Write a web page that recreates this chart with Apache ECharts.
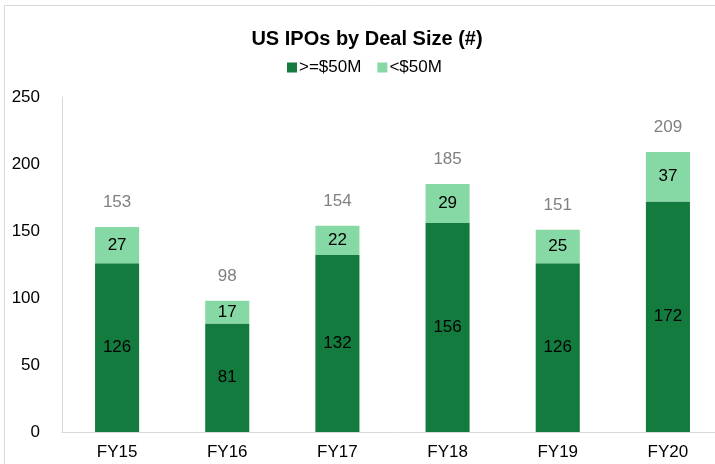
<!DOCTYPE html>
<html>
<head>
<meta charset="utf-8">
<script src="https://cdn.jsdelivr.net/npm/echarts@6/dist/echarts.min.js"></script>
<style>
  html, body { margin: 0; padding: 0; background: #fff; overflow: hidden; }
  #chart { width: 740px; height: 464px; }
</style>
</head>
<body>
<div id="chart"></div>
<script>
const categories = ['FY15', 'FY16', 'FY17', 'FY18', 'FY19', 'FY20'];
const large = [126, 81, 132, 156, 126, 172];
const small = [27, 17, 22, 29, 25, 37];
const totals = [153, 98, 154, 185, 151, 209];
const yTicks = [0, 50, 100, 150, 200, 250];

let chart = echarts.init(document.getElementById('chart'));
const font = 'Liberation Sans, Arial, sans-serif';

// chart area is wider than the window, the right part is cut off like in the original
let option = {
  animation: false,
  textStyle: { fontFamily: font },
  graphic: [{
    type: 'rect',
    shape: { x: 4.5, y: 5.5, width: 760, height: 480 },
    style: { fill: 'none', stroke: '#d9d9d9', lineWidth: 1 }
  }],
  title: {
    text: 'US IPOs by Deal Size (#)',
    left: 362,
    textAlign: 'center',
    top: 24,
    textStyle: { fontSize: 20, fontWeight: 'bold', color: '#000', fontFamily: font }
  },
  legend: {
    data: ['>=$50M', '<$50M'],
    top: 54,
    left: 282,
    itemWidth: 10,
    itemHeight: 10,
    itemGap: 16,
    icon: 'rect',
    textStyle: { fontSize: 17, color: '#000', fontFamily: font, padding: [0, 0, 0, -3] }
  },
  grid: { left: 62, top: 97, width: 661, height: 335 },
  xAxis: {
    type: 'category',
    data: categories,
    axisLine: { lineStyle: { color: '#d9d9d9' } },
    axisTick: { show: false },
    axisLabel: { fontSize: 17, color: '#000', margin: 12, fontFamily: font }
  },
  yAxis: {
    type: 'value',
    min: yTicks[0],
    max: yTicks[yTicks.length - 1],
    interval: 50,
    splitLine: { show: false },
    axisLine: { show: true, lineStyle: { color: '#d9d9d9' } },
    axisTick: { show: false },
    axisLabel: { fontSize: 17, color: '#000', margin: 22, fontFamily: font }
  },
  series: [
    {
      name: '>=$50M',
      type: 'bar',
      stack: 'ipo',
      barWidth: '40%',
      data: large,
      itemStyle: { color: '#147b3f' },
      label: { show: true, position: 'inside', fontSize: 17, color: '#000', fontFamily: font }
    },
    {
      name: '<$50M',
      type: 'bar',
      stack: 'ipo',
      data: small,
      itemStyle: { color: '#86d9a5' },
      label: { show: true, position: 'inside', fontSize: 17, color: '#000', fontFamily: font }
    },
    {
      name: 'Total',
      type: 'bar',
      stack: 'ipo',
      data: totals.map(() => 0),
      itemStyle: { color: 'transparent' },
      label: {
        show: true,
        position: 'top',
        distance: 16,
        fontSize: 17,
        color: '#808080',
        fontFamily: font,
        formatter: p => totals[p.dataIndex]
      }
    }
  ]
};
chart.setOption(option);
</script>
</body>
</html>
